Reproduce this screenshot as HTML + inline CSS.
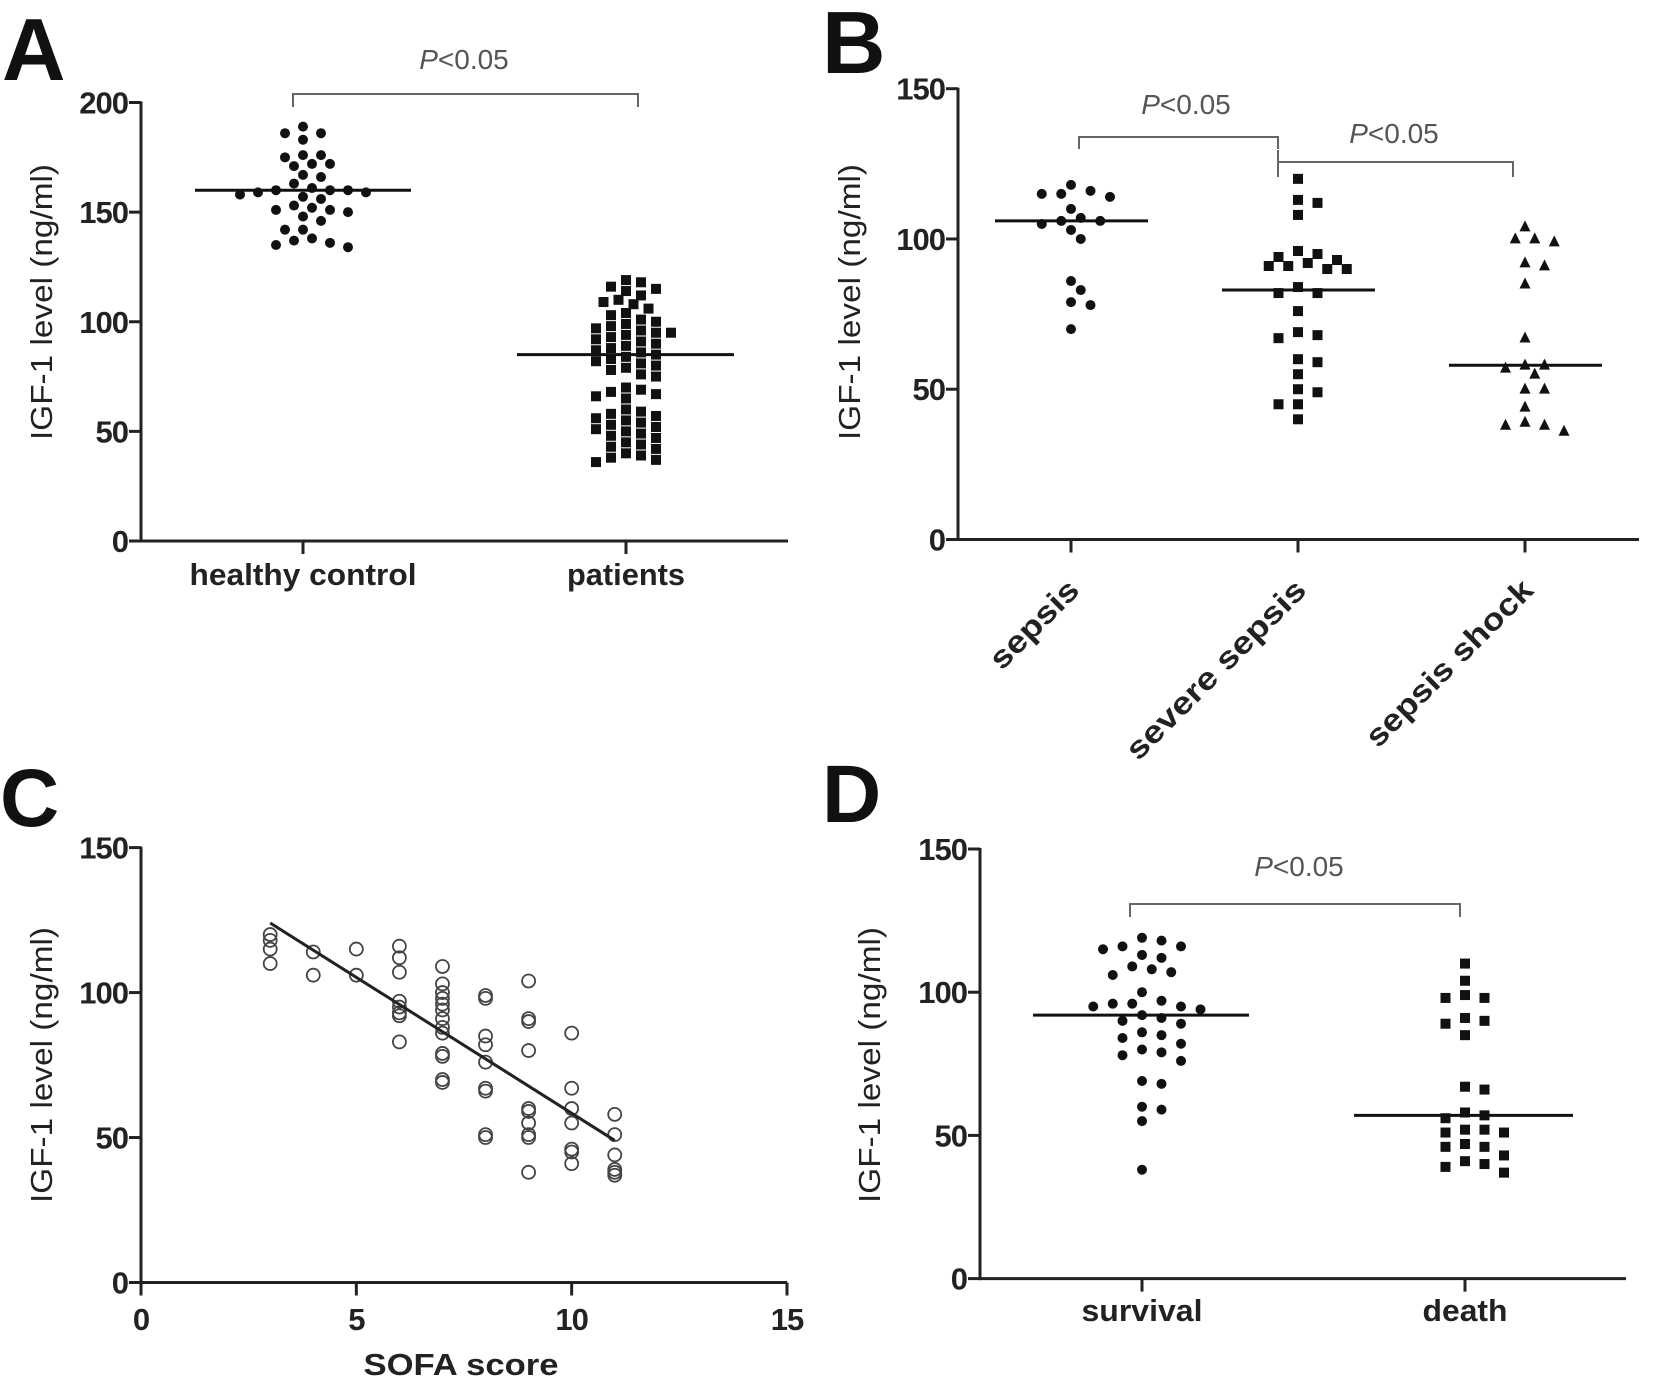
<!DOCTYPE html>
<html><head><meta charset="utf-8"><style>
html,body{margin:0;padding:0;background:#fff;}
svg{display:block;}
text{font-family:"Liberation Sans",Arial,sans-serif;}
</style></head><body>
<svg id="fig" width="1654" height="1390" viewBox="0 0 1654 1390" xmlns="http://www.w3.org/2000/svg">
<g id="gA"></g>
<g id="gB"></g>
<g id="gC"></g>
<g id="gD"></g>
</svg>
<script>
// ---- Panel A data ----
const aCategories = ["healthy control", "patients"];
const aHealthy = [189,186,186,183,176,176,175,172,172,171,167,166,163,161,160,160,160,159,159,158,157,156,153,152,151,151,150,148,146,142,142,138,137,136,135,134];
const aPatients = [119,118,116,115,114,112,110,109,108,106,104,103,101,100,99,98,97,96,95,95,94,93,92,91,90,89,88,87,86,85,84,83,82,81,80,79,78,76,75,70,69,68,67,66,65,60,59,58,57,56,55,54,53,52,51,50,49,48,47,45,44,43,42,40,39,38,37,36];
const aMedians = [160, 85];
const aTicks = [0,50,100,150,200];
// ---- Panel B data ----
const bCategories = ["sepsis", "severe  sepsis", "sepsis shock"];
const bSepsis = [118,116,115,114,115,110,107,106,106,105,103,100,86,83,79,78,70];
const bSevere = [120,113,112,108,96,95,94,93,92,91,90,90,91,84,82,82,76,69,68,67,60,59,55,50,49,45,45,40];
const bShock = [104,100,100,99,92,91,85,67,58,58,57,55,50,50,44,39,38,38,36];
const bMedians = [106, 83, 58];
const bTicks = [0,50,100,150];
// ---- Panel C data ----
const cSofa = [3,3,3,3,4,4,5,5,6,6,6,6,6,6,6,6,7,7,7,7,7,7,7,7,7,7,7,7,7,8,8,8,8,8,8,8,8,8,9,9,9,9,9,9,9,9,9,9,10,10,10,10,10,10,10,11,11,11,11,11,11];
const cIgf  = [120,118,115,110,114,106,115,106,116,112,107,97,95,93,92,83,109,103,100,98,96,94,91,88,86,79,78,70,69,99,98,85,82,76,67,66,51,50,104,91,90,80,60,59,55,51,50,38,86,67,60,55,46,45,41,58,51,44,39,38,37];
const cFitX = [3, 11];
const cFitY = [124, 49];
const cXTicks = [0,5,10,15];
const cYTicks = [0,50,100,150];
// ---- Panel D data ----
const dCategories = ["survival", "death"];
const dSurvival = [119,118,116,116,115,113,112,109,108,107,106,100,97,96,96,95,95,94,92,91,90,89,86,85,84,82,80,79,78,76,69,68,60,59,55,38];
const dDeath = [110,104,99,98,98,91,90,89,85,67,66,58,57,56,52,52,51,51,47,46,46,43,41,40,39,37];
const dMedians = [92, 57];
const dTicks = [0,50,100,150];

const NS = "http://www.w3.org/2000/svg";
function mk(parent, tag, attrs, txt){
  const e = document.createElementNS(NS, tag);
  for (const k in attrs) e.setAttribute(k, attrs[k]);
  if (txt !== undefined) e.textContent = txt;
  parent.appendChild(e);
  return e;
}
function linScale(d0,d1,r0,r1){return v => r0 + (v-d0)*(r1-r0)/(d1-d0);}

function swarm(values, cx, y, d){
  const placed = [];
  const sorted = values.slice().sort((a,b)=>b-a);
  sorted.forEach(v=>{
    const py = y(v);
    for (let k=0;k<40;k++){
      const off = (k===0)?0:(k%2? 1:-1)*Math.ceil(k/2)*d*0.75;
      const px = cx+off;
      if (placed.every(p => (p[0]-px)**2+(p[1]-py)**2 >= d*d)) { placed.push([px,py]); break; }
    }
  });
  return placed;
}

function yAxis(g, x, y, ticks, top, bottom, xEnd){
  const ax = mk(g,'line',{x1:x,y1:y(ticks[ticks.length-1])-1,x2:x,y2:bottom+1.5,stroke:'#222','stroke-width':3});
   
  const xl = mk(g,'line',{x1:x-1.5,y1:bottom,x2:xEnd,y2:bottom,stroke:'#222','stroke-width':3});
   
  ticks.forEach(t=>{
    const tl = mk(g,'line',{x1:x-12,y1:y(t),x2:x,y2:y(t),stroke:'#222','stroke-width':3});
     
    const tx = mk(g,'text',{x:x-13,y:y(t)+11,'text-anchor':'end','font-size':31,'font-weight':'bold',fill:'#222','letter-spacing':'-1'},String(t));
     
  });
}
function yTitle(g, cx, cy, len){
  const t = mk(g,'text',{x:0,y:0,transform:`translate(${cx},${cy}) rotate(-90)`,'text-anchor':'middle','font-size':31,fill:'#222',textLength:len,lengthAdjust:'spacingAndGlyphs'},'IGF-1 level (ng/ml)');
   
}
function letter(g, ch, x, y, size){
  const t = mk(g,'text',{x:x,y:y,'font-size':size,'font-weight':'bold',fill:'#111'},ch);
   
}
function bracket(g, x1, x2, y, tickDown, tx, ty){
  const p = mk(g,'path',{d:`M${x1},${y+tickDown} V${y} H${x2} V${y+tickDown}`,fill:'none',stroke:'#666','stroke-width':2});
   
  const t = mk(g,'text',{x:tx,y:ty,'text-anchor':'middle','font-size':28,fill:'#555'});
   
  const ts = mk(t,'tspan',{'font-style':'italic'},'P');  
  const ts2 = mk(t,'tspan',{},'<0.05');  
}
function xTick(g,x,y){
  const l = mk(g,'line',{x1:x,y1:y,x2:x,y2:y+13,stroke:'#222','stroke-width':3});
   
}
function catLabel(g,x,y,s,len){
  const t = mk(g,'text',{x:x,y:y,'text-anchor':'middle','font-size':31,'font-weight':'bold',fill:'#222',textLength:len,lengthAdjust:'spacingAndGlyphs'},s);
   
}
function dots(g, pts, r, name){
  pts.forEach(p=>{
    const c = mk(g,'circle',{cx:p[0],cy:p[1],r:r,fill:'#111'});
     
  });
}
function squares(g, pts, s, name){
  pts.forEach(p=>{
    const c = mk(g,'rect',{x:p[0]-s/2,y:p[1]-s/2,width:s,height:s,fill:'#111'});
     
  });
}
function tris(g, pts, s, name){
  pts.forEach(p=>{
    const c = mk(g,'path',{d:`M${p[0]},${p[1]-s*0.6} L${p[0]+s/2},${p[1]+s*0.4} L${p[0]-s/2},${p[1]+s*0.4} Z`,fill:'#111'});
     
  });
}
function median(g,x1,x2,y){
  const l = mk(g,'line',{x1:x1,y1:y,x2:x2,y2:y,stroke:'#111','stroke-width':3});
   
}

// ---------- Panel A ----------
(function(){
  const g = document.getElementById('gA');
  const y = linScale(0,200,541,102.5);
  const xs = [303, 626];
  letter(g,'A',2,80,88);
  yAxis(g,141,y,aTicks,102,541,788);
  yTitle(g,52,302,276);
  xs.forEach(x=>xTick(g,x,541));
  catLabel(g,xs[0],585,aCategories[0],227);
  catLabel(g,xs[1],585,aCategories[1],118);
  dots(g, swarm(aHealthy, xs[0], y, 12), 5, 'healthy-point');
  squares(g, swarm(aPatients, xs[1], y, 10), 10, 'patient-point');
  median(g,195,411,y(aMedians[0]));
  median(g,517,734,y(aMedians[1]));
  bracket(g,293,638,94,13,464,69);
})();

// ---------- Panel B ----------
(function(){
  const g = document.getElementById('gB');
  const y = linScale(0,150,539.5,88.7);
  const xs = [1071, 1298, 1525];
  letter(g,'B',822,73,88);
  yAxis(g,958,y,bTicks,88,539.5,1639);
  yTitle(g,860,302,276);
  xs.forEach(x=>xTick(g,x,539.5));
  const lens = [112, 240, 222];
  bCategories.forEach((c,i)=>{
    const t = mk(g,'text',{x:0,y:0,transform:`translate(${xs[i]+10},${592}) rotate(-45)`,'text-anchor':'end','font-size':31,'font-weight':'bold',fill:'#222',textLength:lens[i],lengthAdjust:'spacingAndGlyphs'},c);
     
  });
  dots(g, swarm(bSepsis, xs[0], y, 13), 5, 'sepsis-point');
  squares(g, swarm(bSevere, xs[1], y, 13), 10, 'severe-sepsis-point');
  tris(g, swarm(bShock, xs[2], y, 13), 11, 'sepsis-shock-point');
  median(g,995,1148,y(bMedians[0]));
  median(g,1222,1375,y(bMedians[1]));
  median(g,1449,1602,y(bMedians[2]));
  bracket(g,1079,1278,137,12,1186,114);
  const p = mk(g,'line',{x1:1278,y1:150,x2:1278,y2:162,stroke:'#666','stroke-width':2});
   
  bracket(g,1278,1513,162,15,1394,143);
})();

// ---------- Panel C ----------
(function(){
  const g = document.getElementById('gC');
  const y = linScale(0,150,1282.5,847.6);
  const x = linScale(0,15,141,787);
  letter(g,'C',0,826,82);
  yAxis(g,141,y,cYTicks,847,1282.5,787);
  yTitle(g,52,1065,276);
  cXTicks.forEach(t=>{
    xTick(g,x(t),1282.5);
    const tx = mk(g,'text',{x:x(t),y:1330,'text-anchor':'middle','font-size':31,'font-weight':'bold',fill:'#222','letter-spacing':'-1'},String(t));
     
  });
  const xt = mk(g,'text',{x:461,y:1375,'text-anchor':'middle','font-size':31,'font-weight':'bold',fill:'#222',textLength:195,lengthAdjust:'spacingAndGlyphs'},'SOFA score');
   
  cSofa.forEach((s,i)=>{
    const c = mk(g,'circle',{cx:x(s),cy:y(cIgf[i]),r:6.5,fill:'none',stroke:'#444','stroke-width':1.8});
     
  });
  const fl = mk(g,'line',{x1:x(cFitX[0]),y1:y(cFitY[0]),x2:x(cFitX[1]),y2:y(cFitY[1]),stroke:'#222','stroke-width':3});
   
})();

// ---------- Panel D ----------
(function(){
  const g = document.getElementById('gD');
  const y = linScale(0,150,1278.6,849);
  const xs = [1142, 1465];
  letter(g,'D',822,822,82);
  yAxis(g,980,y,dTicks,849,1278.6,1626);
  yTitle(g,880,1065,276);
  xs.forEach(x=>xTick(g,x,1278.6));
  catLabel(g,xs[0],1321,dCategories[0],121);
  catLabel(g,xs[1],1321,dCategories[1],85);
  dots(g, swarm(dSurvival, xs[0], y, 13), 5, 'survival-point');
  squares(g, swarm(dDeath, xs[1], y, 13), 10, 'death-point');
  median(g,1033,1249,y(dMedians[0]));
  median(g,1354,1573,y(dMedians[1]));
  bracket(g,1130,1460,904,13,1299,876);
})();
</script>
</body></html>
